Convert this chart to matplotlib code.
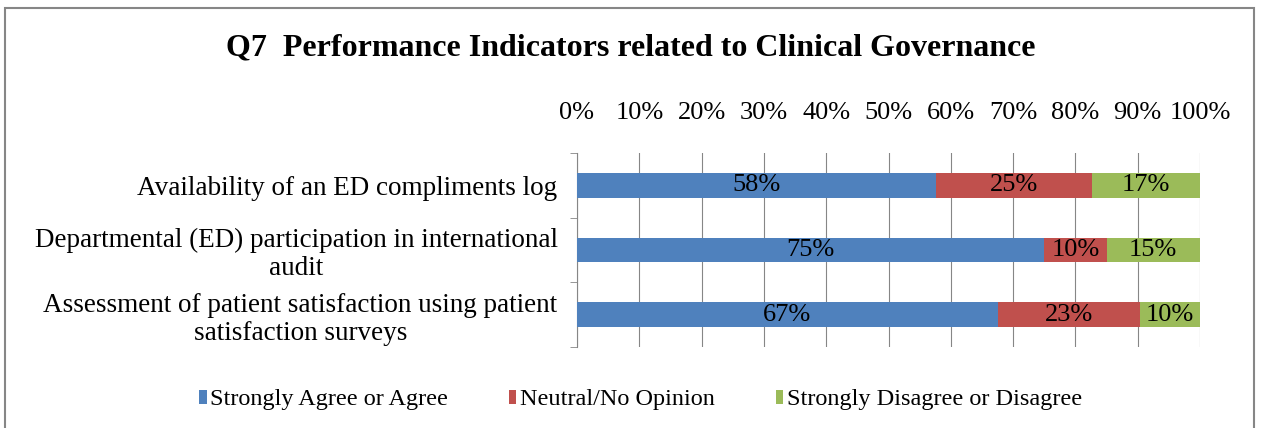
import numpy as np
import matplotlib.pyplot as plt
from matplotlib.patches import Rectangle

plt.rcParams['font.family'] = ['Liberation Serif', 'DejaVu Serif']

categories = ["Availability of an ED compliments log",
              "Departmental (ED) participation in international\naudit",
              "Assessment of patient satisfaction using patient\nsatisfaction surveys"]
series = ["Strongly Agree or Agree", "Neutral/No Opinion", "Strongly Disagree or Disagree"]
agree = [57.7, 75.0, 67.5]
neutral = [25.0, 10.0, 22.9]
disagree = [17.3, 15.0, 9.6]
labels = [["58%", "75%", "67%"], ["25%", "10%", "23%"], ["17%", "15%", "10%"]]
colors = ["#4F81BD", "#C0504D", "#9BBB59"]

fig = plt.figure(figsize=(12.61, 4.28), dpi=100)
ax = fig.add_axes([577/1261, 1-347/428, 623/1261, 194/428])

y = np.arange(len(categories))
left = np.zeros(len(categories))
for vals, lab, col, name in zip([agree, neutral, disagree], labels, colors, series):
    bars = ax.barh(y, vals, left=left, height=0.38, color=col, label=name, zorder=3)
    ax.bar_label(bars, labels=lab, label_type='center', fontsize=19, color='black')
    left += np.array(vals)

ax.set_xlim(0, 100)
ax.set_ylim(2.5, -0.5)
ax.set_xticks(np.arange(0, 101, 10))
ax.set_xticklabels([f"{v}%" for v in range(0, 101, 10)], fontsize=19)
ax.xaxis.tick_top()
ax.tick_params(axis='x', length=0, pad=21)
ax.set_yticks(y)
ax.set_yticklabels(categories, fontsize=19.5, multialignment='center', linespacing=1.15)
ax.set_yticks([-0.5, 0.5, 1.5, 2.5], minor=True)
ax.tick_params(axis='y', which='major', length=0, pad=14)
ax.tick_params(axis='y', which='minor', length=5, color='#868686')
ax.grid(axis='x', color='#868686', linewidth=0.8, zorder=0)
for s in ['top', 'right', 'bottom']:
    ax.spines[s].set_visible(False)
ax.spines['left'].set_color('#868686')

fig.suptitle("Q7  Performance Indicators related to Clinical Governance",
             x=0.5, y=1-48/428, va='center', fontsize=23, fontweight='bold')

fig.legend(loc='center', bbox_to_anchor=(0.508, 1-400/428), ncol=3, frameon=False,
           fontsize=17.5, handlelength=0.3, handleheight=0.55, handletextpad=0.15,
           columnspacing=2.5)

fig.patches.append(Rectangle((5/1261, -0.1), 1249/1261, 1.1-8/428, transform=fig.transFigure,
                             fill=False, edgecolor='#868686', linewidth=1.5))

fig.savefig('out.png', dpi=100)
